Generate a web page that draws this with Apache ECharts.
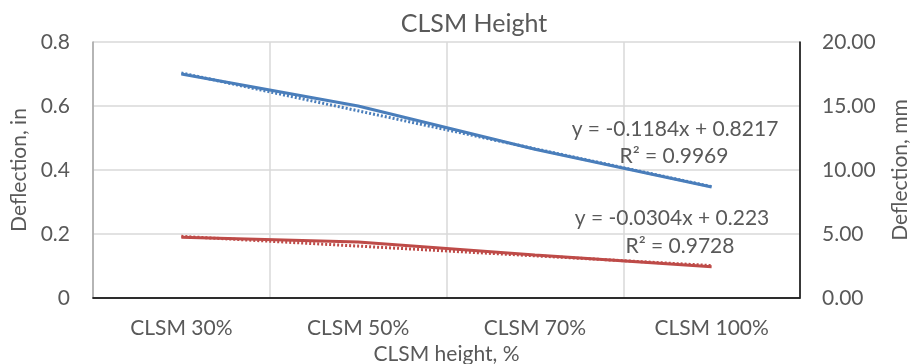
<!DOCTYPE html>
<html>
<head>
<meta charset="utf-8">
<script src="https://cdn.jsdelivr.net/npm/echarts@6/dist/echarts.min.js"></script>
<style>
  html, body { margin: 0; padding: 0; background: #fff; }
  #chart { width: 914px; height: 364px; }
</style>
</head>
<body>
<div id="chart"></div>
<script>
// CLSM height vs. measured deflection (inches), with linear trendlines
const categories = ['CLSM 30%', 'CLSM 50%', 'CLSM 70%', 'CLSM 100%'];
const deflectionA = [0.70, 0.60, 0.465, 0.347];
const deflectionB = [0.19, 0.175, 0.134, 0.098];

// Linear trendline coefficients (x = 1..n)
const trendA = { slope: -0.1184, intercept: 0.8217, r2: '0.9969' };
const trendB = { slope: -0.0304, intercept: 0.223, r2: '0.9728' };

const leftTicks = [0, 0.2, 0.4, 0.6, 0.8];
const rightTicks = [0, 5, 10, 15, 20];

const BLUE = '#4A7EBB';
const RED = '#BE4B48';
const TEXT = '#595959';
const FONT = 'Lato, "Noto Sans", sans-serif';

function trendValues(t) {
  return categories.map((_, i) => +(t.slope * (i + 1) + t.intercept).toFixed(4));
}
function equation(t) {
  const s = t.slope < 0 ? '-' + Math.abs(t.slope) : String(t.slope);
  return 'y = ' + s + 'x + ' + t.intercept;
}
function label(text, x, y) {
  return {
    type: 'text', x: x, y: y, z: 10,
    style: { text: text, align: 'center', verticalAlign: 'middle',
             fontFamily: FONT, fontSize: 21, fill: TEXT }
  };
}

const chart = echarts.init(document.getElementById('chart'), null, { renderer: 'canvas' });

const option = {
  animation: false,
  backgroundColor: '#fff',
  title: {
    text: 'CLSM Height',
    left: 469,
    top: 6,
    textAlign: 'center',
    textStyle: { fontFamily: FONT, fontSize: 25, fontWeight: 'normal', color: TEXT }
  },
  grid: { left: 93, right: 114, top: 42, bottom: 66, outerBoundsMode: 'none', containLabel: false },
  xAxis: [{
    type: 'category',
    data: categories,
    boundaryGap: true,
    name: 'CLSM height, %',
    nameLocation: 'middle',
    nameGap: 40,
    nameTextStyle: { fontFamily: FONT, fontSize: 21, color: TEXT },
    axisLine: { lineStyle: { color: '#a6a6a6', width: 1.5 } },
    axisTick: { show: false },
    axisLabel: { fontFamily: FONT, fontSize: 21, color: TEXT, margin: 20 },
    splitLine: { show: true, lineStyle: { color: '#d9d9d9', width: 1.5 } }
  }, {
    type: 'category',
    data: categories,
    position: 'top',
    axisLine: { lineStyle: { color: '#000', width: 1.5 } },
    axisTick: { show: false },
    axisLabel: { show: false },
    splitLine: { show: false }
  }],
  yAxis: [{
    type: 'value',
    min: leftTicks[0],
    max: leftTicks[leftTicks.length - 1],
    interval: leftTicks[1] - leftTicks[0],
    name: 'Deflection, in',
    nameLocation: 'middle',
    nameGap: 62,
    nameTextStyle: { fontFamily: FONT, fontSize: 21, color: TEXT },
    axisLine: { show: true, lineStyle: { color: '#a6a6a6', width: 1.5 } },
    axisTick: { show: false },
    axisLabel: {
      fontFamily: FONT, fontSize: 21, color: TEXT, margin: 23,
      formatter: v => (v === 0 ? '0' : String(+v.toFixed(1)))
    },
    splitLine: { show: true, lineStyle: { color: '#d9d9d9', width: 1.5 } }
  }, {
    type: 'value',
    position: 'right',
    min: rightTicks[0],
    max: rightTicks[rightTicks.length - 1],
    interval: rightTicks[1] - rightTicks[0],
    name: 'Deflection, mm',
    nameLocation: 'middle',
    nameGap: 90,
    nameTextStyle: { fontFamily: FONT, fontSize: 21, color: TEXT },
    axisLine: { show: true, lineStyle: { color: '#000', width: 1.5 } },
    axisTick: { show: false },
    axisLabel: {
      fontFamily: FONT, fontSize: 21, color: TEXT, margin: 22,
      formatter: v => v.toFixed(2)
    },
    splitLine: { show: false }
  }],
  series: [
    {
      name: 'Trend A', type: 'line', data: trendValues(trendA),
      showSymbol: false, symbol: 'none', z: 3,
      lineStyle: { color: BLUE, width: 3, type: [2, 2] }
    },
    {
      name: 'Deflection A', type: 'line', data: deflectionA,
      showSymbol: false, symbol: 'none', z: 2,
      lineStyle: { color: BLUE, width: 3 }
    },
    {
      name: 'Trend B', type: 'line', data: trendValues(trendB),
      showSymbol: false, symbol: 'none', z: 3,
      lineStyle: { color: RED, width: 3, type: [2, 2] }
    },
    {
      name: 'Deflection B', type: 'line', data: deflectionB,
      showSymbol: false, symbol: 'none', z: 2,
      lineStyle: { color: RED, width: 3 }
    }
  ],
  graphic: [
    label(equation(trendA), 675, 129),
    label('R² = ' + trendA.r2, 674, 156),
    label(equation(trendB), 672, 218),
    label('R² = ' + trendB.r2, 680, 246)
  ]
};

chart.setOption(option);
</script>
</body>
</html>
